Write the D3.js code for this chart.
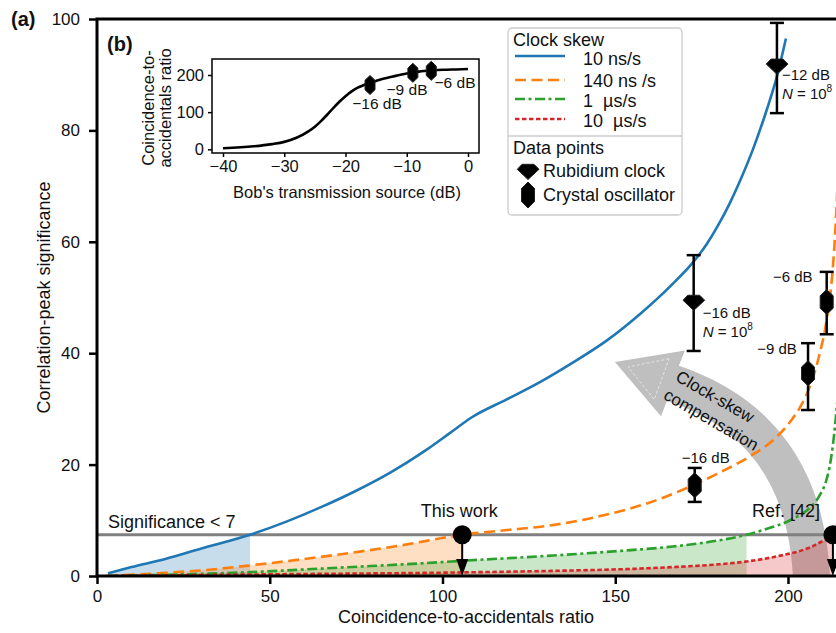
<!DOCTYPE html>
<html>
<head>
<meta charset="utf-8">
<script src="https://cdn.jsdelivr.net/npm/d3@7"></script>
<style>
  body { margin: 0; background: #fff; }
  svg { display: block; font-family: "Liberation Sans", Arial, sans-serif; }
  text { white-space: pre; }
</style>
</head>
<body>
<div id="chart"></div>
<script>
// ---- panel (a): correlation-peak significance vs coincidence-to-accidentals ratio
const skewLabels = ['10 ns/s', '140 ns /s', '1  µs/s', '10  µs/s']
const skewColors = ['#1f77b4', '#ff7f0e', '#2ca02c', '#d62728']
const skewDash = [null, '11,5.5', '10,3.5,3,3.5', '4.5,2.5']

const ns10X = [3.2, 10, 20, 30, 44.3, 55, 65, 75, 85, 95, 102, 108.5, 118.6, 128.2, 137.7, 147.6, 157.1, 166.7, 172.5, 176.5, 180, 183.2, 186.5, 189.8, 193.9, 196.8, 199.4]
const ns10Y = [0.5, 1.6, 3.1, 4.9, 7.4, 9.8, 12.4, 15.3, 18.6, 22.5, 25.6, 28.5, 31.7, 34.8, 38.3, 42.3, 47.0, 52.5, 56.3, 59.6, 63.2, 67.0, 71.5, 76.5, 83.8, 89.7, 96.5]

const ns140X = [3, 18, 30, 44.3, 50, 68, 88, 105.7, 118, 130.2, 140, 149.3, 160, 170.7, 180, 189, 196.8, 201, 203.4, 206.3, 209, 211.2, 212.5, 213.5, 214.5]
const ns140Y = [0, 0.5, 1.0, 1.9, 2.3, 3.7, 5.5, 7.4, 8.2, 9.0, 10.0, 11.3, 13.2, 15.8, 18.5, 21.5, 25.0, 28.0, 30.2, 34.0, 39.5, 46.0, 52, 60, 72]

const us1X = [3, 44.3, 70, 100, 105, 130, 151.3, 166.7, 180, 188, 195, 199.6, 203, 206.3, 209.2, 211, 212, 213, 214.5]
const us1Y = [0, 0.7, 1.5, 2.5, 2.7, 3.6, 4.5, 5.3, 6.4, 7.4, 8.7, 9.7, 10.8, 12.2, 14.5, 17.0, 19.5, 23.5, 33]

const us10X = [3, 50, 100, 130, 151, 166.7, 180, 188, 195, 199.6, 204, 207, 209.5, 211.5, 213, 214.5]
const us10Y = [0, 0.3, 0.6, 0.9, 1.2, 1.6, 2.1, 2.6, 3.3, 3.9, 4.6, 5.3, 6.1, 6.7, 7.4, 10]

// where each curve reaches the significance threshold (shaded below)
const sigThreshold = 7.4
const sigCross = [44.3, 105.7, 188, 213]

// measured points
const rbX = [172.7, 196.8]
const rbY = [49.2, 91.6]
const rbLo = [40.4, 83.1]
const rbHi = [57.6, 99.3]
const rbLabel = ['−16 dB', '−12 dB']

const xoX = [173, 205.8, 211.2]
const xoY = [16.3, 36.4, 49.2]
const xoLo = [13.3, 29.8, 43.4]
const xoHi = [19.4, 41.8, 54.6]
const xoLabel = ['−16 dB', '−9 dB', '−6 dB']

const xTicks = [0, 50, 100, 150, 200]
const yTicks = [0, 20, 40, 60, 80, 100]

// ---- panel (b): ratio vs Bob's transmission
const insetDb = [-40, -35, -32, -30, -28, -26, -25, -24, -23, -22, -21, -20, -19, -18, -17, -16, -15, -14, -12, -10, -8, -6, -4, -2, 0]
const insetRatio = [3, 8, 14, 20, 31, 49, 61, 76, 93, 111, 128, 143, 156, 166, 173, 179, 184, 189, 197, 204, 209, 212, 214, 215, 216]
const insetPtDb = [-16, -9, -6]
const insetXTicks = [-40, -30, -20, -10, 0]
const insetYTicks = [0, 100, 200]

const W = 836, H = 633
const svg = d3.select('#chart').append('svg').attr('width', W).attr('height', H)

const x = d3.scaleLinear().domain([0, 200]).range([97, 788])
const y = d3.scaleLinear().domain([0, 100]).range([576, 19])
const pL = 97, pR = W, pT = 19, pB = 576

svg.append('clipPath').attr('id', 'plotclip')
  .append('rect').attr('x', pL).attr('y', pT).attr('width', pR - pL).attr('height', pB - pT)

const plot = svg.append('g').attr('clip-path', 'url(#plotclip)')

// big curved "clock-skew compensation" arrow
const S = [x(206.9), y(-2.5)], C = [x(206.3), y(26.3)], E = [x(166.7), y(34.6)], T = [x(149.9), y(38.4)]
const hw = 18.5, headHw = 35
const sideA = [], sideB = []
for (let i = 0; i <= 40; i++) {
  const t = i / 40
  const px = (1 - t) * (1 - t) * S[0] + 2 * t * (1 - t) * C[0] + t * t * E[0]
  const py = (1 - t) * (1 - t) * S[1] + 2 * t * (1 - t) * C[1] + t * t * E[1]
  const dx = 2 * (1 - t) * (C[0] - S[0]) + 2 * t * (E[0] - C[0])
  const dy = 2 * (1 - t) * (C[1] - S[1]) + 2 * t * (E[1] - C[1])
  const len = Math.hypot(dx, dy)
  const nx = -dy / len, ny = dx / len
  sideA.push([px + nx * hw, py + ny * hw])
  sideB.push([px - nx * hw, py - ny * hw])
}
{
  const dx = T[0] - E[0], dy = T[1] - E[1], len = Math.hypot(dx, dy)
  const nx = -dy / len, ny = dx / len
  const arrowPts = sideA.concat([[E[0] + nx * headHw, E[1] + ny * headHw], T, [E[0] - nx * headHw, E[1] - ny * headHw]], sideB.slice().reverse())
  plot.append('path').attr('d', d3.line()(arrowPts) + 'Z').attr('fill', '#bfbfbf')
  // faint inner outline of the head
  const k = 0.62, ux = dx / len, uy = dy / len
  const mid = [E[0] + ux * 12, E[1] + uy * 12]
  const inner = [[mid[0] + nx * headHw * k, mid[1] + ny * headHw * k], [T[0] - ux * 14, T[1] - uy * 14], [mid[0] - nx * headHw * k, mid[1] - ny * headHw * k]]
  plot.append('path').attr('d', d3.line()(inner) + 'Z').attr('fill', 'none')
    .attr('stroke', '#e4e4e4').attr('stroke-width', 1).attr('stroke-dasharray', '3,2')
}

// shaded regions below threshold
const series = [[ns10X, ns10Y], [ns140X, ns140Y], [us1X, us1Y], [us10X, us10Y]]
series.forEach((s, i) => {
  const pts = s[0].map((v, j) => [v, s[1][j]]).filter(p => p[0] <= sigCross[i] + 1e-6)
  plot.append('path')
    .attr('d', d3.area().x(d => x(d[0])).y0(y(0)).y1(d => y(d[1])).curve(d3.curveMonotoneX)(pts))
    .attr('fill', skewColors[i]).attr('fill-opacity', 0.25)
})

// significance threshold line
plot.append('line')
  .attr('x1', pL).attr('x2', pR).attr('y1', y(sigThreshold)).attr('y2', y(sigThreshold))
  .attr('stroke', '#808080').attr('stroke-width', 3)

series.forEach((s, i) => {
  const pts = s[0].map((v, j) => [v, s[1][j]])
  plot.append('path')
    .attr('d', d3.line().x(d => x(d[0])).y(d => y(d[1])).curve(d3.curveMonotoneX)(pts))
    .attr('fill', 'none').attr('stroke', skewColors[i]).attr('stroke-width', 2.6)
    .attr('stroke-dasharray', skewDash[i])
})

// arrow text
const arrowText = svg.append('g').attr('font-size', 17).attr('fill', '#111')
arrowText.append('text').attr('transform', 'translate(715,397) rotate(30)')
  .attr('text-anchor', 'middle').attr('dominant-baseline', 'central').text('Clock-skew')
arrowText.append('text').attr('transform', 'translate(711,420) rotate(30)')
  .attr('text-anchor', 'middle').attr('dominant-baseline', 'central').text('compensation')

// axes
const xAxis = svg.append('g').attr('transform', `translate(0,${pB})`)
  .call(d3.axisBottom(x).tickValues(xTicks).tickSize(8).tickSizeOuter(0).tickPadding(6))
const yAxis = svg.append('g').attr('transform', `translate(${pL},0)`)
  .call(d3.axisLeft(y).tickValues(yTicks).tickSize(8).tickSizeOuter(0).tickPadding(9))
;[xAxis, yAxis].forEach(a => {
  a.select('.domain').remove()
  a.selectAll('line').attr('stroke', '#000').attr('stroke-width', 2.5)
  a.selectAll('text').attr('font-size', 17).attr('font-family', 'Liberation Sans, Arial, sans-serif').attr('fill', '#111')
})
svg.append('path').attr('d', `M${pR},${pT}H${pL}V${pB}H${pR}`)
  .attr('fill', 'none').attr('stroke', '#000').attr('stroke-width', 3)

svg.append('text').attr('x', 466).attr('y', 617).attr('text-anchor', 'middle')
  .attr('dominant-baseline', 'central').attr('font-size', 18).attr('fill', '#111')
  .text('Coincidence-to-accidentals ratio')
svg.append('text').attr('transform', `translate(44,${(pT + pB) / 2}) rotate(-90)`)
  .attr('text-anchor', 'middle').attr('dominant-baseline', 'central').attr('font-size', 18).attr('fill', '#111')
  .text('Correlation-peak significance')

// error bars + markers
const gemPath = 'M-10.7,-1.7L-6,-6.7L6,-6.7L11,-1.7L0,8.5Z'
const hexPath = (w, h) => `M0,${-h}L${w},${-h * 0.5}L${w},${h * 0.5}L0,${h}L${-w},${h * 0.5}L${-w},${-h * 0.5}Z`

function errBar(xv, lo, hi) {
  const g = svg.append('g').attr('stroke', '#000').attr('stroke-width', 2.5)
  g.append('line').attr('x1', x(xv)).attr('x2', x(xv)).attr('y1', y(lo)).attr('y2', y(hi))
  g.append('line').attr('x1', x(xv) - 7).attr('x2', x(xv) + 7).attr('y1', y(lo)).attr('y2', y(lo))
  g.append('line').attr('x1', x(xv) - 7).attr('x2', x(xv) + 7).attr('y1', y(hi)).attr('y2', y(hi))
}

rbX.forEach((v, i) => {
  errBar(v, rbLo[i], rbHi[i])
  svg.append('path').attr('d', gemPath).attr('transform', `translate(${x(v)},${y(rbY[i])})`)
    .attr('fill', '#000').attr('stroke', '#222').attr('stroke-width', 1)
})
xoX.forEach((v, i) => {
  errBar(v, xoLo[i], xoHi[i])
  svg.append('path').attr('d', hexPath(6.5, 12.5)).attr('transform', `translate(${x(v)},${y(xoY[i])})`)
    .attr('fill', '#000').attr('stroke', '#222').attr('stroke-width', 1)
})

// point labels
const lab = svg.append('g').attr('font-size', 15).attr('fill', '#111')
const rbOff = [[9, 11], [5, 9]]
rbX.forEach((v, i) => {
  const px = x(v) + rbOff[i][0], py = y(rbY[i]) + rbOff[i][1]
  lab.append('text').attr('x', px).attr('y', py).attr('dominant-baseline', 'central').text(rbLabel[i])
  const t = lab.append('text').attr('x', px).attr('y', py + 18).attr('dominant-baseline', 'central')
  t.append('tspan').attr('font-style', 'italic').text('N')
  t.append('tspan').text(' = 10')
  t.append('tspan').attr('font-size', 10).attr('dy', -5).text('8')
})
const xoOff = [[11, -28], [-31, -25], [-34, -25]]
xoX.forEach((v, i) => {
  lab.append('text').attr('x', x(v) + xoOff[i][0]).attr('y', y(xoY[i]) + xoOff[i][1])
    .attr('text-anchor', 'middle').attr('dominant-baseline', 'central').text(xoLabel[i])
})

// "This work" and Ref. [42] markers with arrows down to the axis
const refX = [105.7, 213]
const refText = ['This work', 'Ref. [42]']
const refTextDx = [-3, -47]
refX.forEach((v, i) => {
  const cx = x(v), cy = y(sigThreshold)
  svg.append('line').attr('x1', cx).attr('x2', cx).attr('y1', cy).attr('y2', y(0) - 14)
    .attr('stroke', '#000').attr('stroke-width', 2)
  svg.append('path').attr('d', `M${cx - 6},${y(0) - 17}L${cx + 6},${y(0) - 17}L${cx},${y(0)}Z`).attr('fill', '#000')
  svg.append('circle').attr('cx', cx).attr('cy', cy).attr('r', 9.5).attr('fill', '#000')
  svg.append('text').attr('x', cx + refTextDx[i]).attr('y', cy - 24).attr('text-anchor', 'middle')
    .attr('dominant-baseline', 'central').attr('font-size', 18).attr('fill', '#111').text(refText[i])
})
svg.append('text').attr('x', 108).attr('y', y(sigThreshold) - 13).attr('dominant-baseline', 'central')
  .attr('font-size', 18).attr('fill', '#111').text('Significance < 7')

// legend
const lg = svg.append('g')
lg.append('rect').attr('x', 508).attr('y', 28).attr('width', 174).attr('height', 187).attr('rx', 4)
  .attr('fill', '#fff').attr('fill-opacity', 0.85).attr('stroke', '#cccccc').attr('stroke-width', 1.3)
lg.append('line').attr('x1', 508).attr('x2', 682).attr('y1', 136).attr('y2', 136)
  .attr('stroke', '#cccccc').attr('stroke-width', 1.3)
lg.append('text').attr('x', 513).attr('y', 40).attr('dominant-baseline', 'central').attr('font-size', 18).attr('fill', '#111').text('Clock skew')
const lineYs = [56, 80, 99, 119], textYs = [59, 81, 101, 121]
skewLabels.forEach((s, i) => {
  lg.append('line').attr('x1', 515).attr('x2', 565).attr('y1', lineYs[i]).attr('y2', lineYs[i])
    .attr('stroke', skewColors[i]).attr('stroke-width', 2.6).attr('stroke-dasharray', skewDash[i])
  lg.append('text').attr('x', 583).attr('y', textYs[i]).attr('dominant-baseline', 'central')
    .attr('font-size', 18).attr('fill', '#111').text(s)
})
lg.append('text').attr('x', 513).attr('y', 148).attr('dominant-baseline', 'central').attr('font-size', 18).attr('fill', '#111').text('Data points')
lg.append('path').attr('d', gemPath).attr('transform', 'translate(528,171)').attr('fill', '#000').attr('stroke', '#222')
lg.append('text').attr('x', 543).attr('y', 171).attr('dominant-baseline', 'central').attr('font-size', 18).attr('fill', '#111').text('Rubidium clock')
lg.append('path').attr('d', hexPath(6.5, 13)).attr('transform', 'translate(528,195)').attr('fill', '#000').attr('stroke', '#222')
lg.append('text').attr('x', 543).attr('y', 195).attr('dominant-baseline', 'central').attr('font-size', 18).attr('fill', '#111').text('Crystal oscillator')

// ---- inset (b)
const xi = d3.scaleLinear().domain([-40, 0]).range([223, 468])
const yi = d3.scaleLinear().domain([0, 200]).range([149.3, 75])
const ib = { l: 212, r: 479, t: 59, b: 153 }
const inset = svg.append('g')
inset.append('rect').attr('x', ib.l).attr('y', ib.t).attr('width', ib.r - ib.l).attr('height', ib.b - ib.t)
  .attr('fill', '#fff').attr('stroke', '#000').attr('stroke-width', 1.5)
inset.append('path')
  .attr('d', d3.line().x((d, i) => xi(insetDb[i])).y(d => yi(d)).curve(d3.curveMonotoneX)(insetRatio))
  .attr('fill', 'none').attr('stroke', '#000').attr('stroke-width', 2.6)
insetPtDb.forEach((v, i) => {
  inset.append('path').attr('d', hexPath(5, 9.5)).attr('transform', `translate(${xi(v)},${yi(xoX[i])})`)
    .attr('fill', '#000').attr('stroke', '#222')
})
const insetLabPos = [[377, 103], [407, 89], [455, 82]]
insetPtDb.forEach((v, i) => {
  inset.append('text').attr('x', insetLabPos[i][0]).attr('y', insetLabPos[i][1]).attr('text-anchor', 'middle')
    .attr('dominant-baseline', 'central').attr('font-size', 15.5).attr('fill', '#111').text(xoLabel[i])
})
const ixAxis = inset.append('g').attr('transform', `translate(0,${ib.b})`)
  .call(d3.axisBottom(xi).tickValues(insetXTicks).tickFormat(d => d < 0 ? '−' + Math.abs(d) : d).tickSize(4).tickSizeOuter(0).tickPadding(3))
const iyAxis = inset.append('g').attr('transform', `translate(${ib.l},0)`)
  .call(d3.axisLeft(yi).tickValues(insetYTicks).tickSize(4).tickSizeOuter(0).tickPadding(4))
;[ixAxis, iyAxis].forEach(a => {
  a.select('.domain').remove()
  a.selectAll('line').attr('stroke', '#000').attr('stroke-width', 1.5)
  a.selectAll('text').attr('font-size', 16.5).attr('font-family', 'Liberation Sans, Arial, sans-serif').attr('fill', '#111')
})
inset.append('text').attr('x', 347).attr('y', 192).attr('text-anchor', 'middle').attr('dominant-baseline', 'central')
  .attr('font-size', 16.5).attr('fill', '#111').text("Bob's transmission source (dB)")
inset.append('text').attr('transform', 'translate(148,108) rotate(-90)').attr('text-anchor', 'middle')
  .attr('dominant-baseline', 'central').attr('font-size', 16.5).attr('fill', '#111').text('Coincidence-to-')
inset.append('text').attr('transform', 'translate(165,108) rotate(-90)').attr('text-anchor', 'middle')
  .attr('dominant-baseline', 'central').attr('font-size', 16.5).attr('fill', '#111').text('accidentals ratio')

// panel tags
svg.append('text').attr('x', 11).attr('y', 19).attr('dominant-baseline', 'central')
  .attr('font-size', 20).attr('font-weight', 'bold').attr('fill', '#111').text('(a)')
svg.append('text').attr('x', 107).attr('y', 44).attr('dominant-baseline', 'central')
  .attr('font-size', 20).attr('font-weight', 'bold').attr('fill', '#111').text('(b)')
</script>
</body>
</html>
